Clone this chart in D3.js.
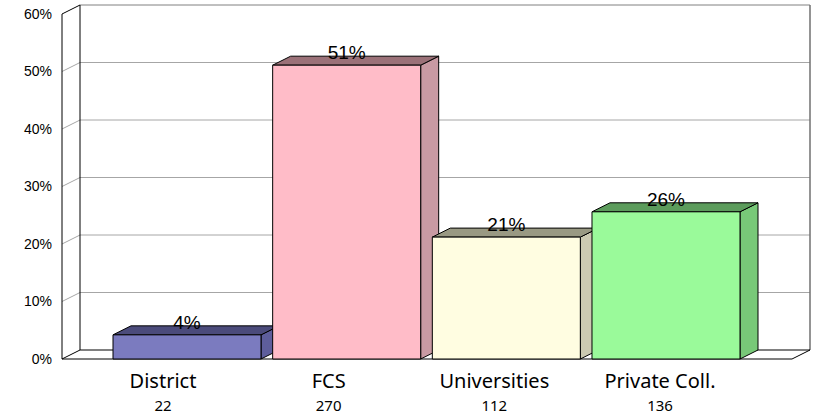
<!DOCTYPE html>
<html>
<head>
<meta charset="utf-8">
<script src="https://cdn.jsdelivr.net/npm/d3@7"></script>
<style>
  body { margin: 0; background: #fff; }
  svg { display: block; }
</style>
</head>
<body>
<svg id="canvas"></svg>
<script>
let categories = ['District', 'FCS', 'Universities', 'Private Coll.']
let counts = [22, 270, 112, 136]
let percents = [4.2, 51.1, 21.2, 25.6]
let yTicks = [0, 10, 20, 30, 40, 50, 60]

let frontColors = ['#7b7bbf', '#ffbcc8', '#fffde1', '#9afa9a']
let topColors = ['#4b4b7b', '#9b7178', '#999983', '#5c9c5c']
let sideColors = ['#5e5e9c', '#c99aa3', '#cccab2', '#78c878']

let width = 820,
height = 415

// depth offset of the 3d box
let dx = 18, dy = -9
let left = 62, right = 792

let canvas = d3.select('#canvas')
.attr('width', width)
.attr('height', height)

let y = d3.scaleLinear().domain([0, 60]).range([359, 14])

let x = d3.scaleBand()
.domain(categories)
.range([113, 740])
.paddingInner(0.073)
.paddingOuter(0)

let labelX = d3.scalePoint().domain(categories).range([163, 660])

let data = categories.map((c, i) => ({
    name: c, count: counts[i], value: percents[i],
    front: frontColors[i], top: topColors[i], side: sideColors[i]
}))

// floor
canvas.append('polygon')
.attr('points', [[left, y(0)], [right, y(0)], [right + dx, y(0) + dy], [left + dx, y(0) + dy]].join(' '))
.attr('fill', '#fff')
.attr('stroke', 'none')

// gridlines on back wall and left wall
let grid = canvas.append('g')
grid.selectAll('line.back')
.data(yTicks.slice(1, -1))
.join('line')
.attr('class', 'back')
.attr('x1', left + dx).attr('x2', right + dx)
.attr('y1', (d) => y(d) + dy).attr('y2', (d) => y(d) + dy)
.attr('stroke', '#a6a6a6')
.attr('stroke-width', 1)

grid.selectAll('line.side')
.data(yTicks.slice(1, -1))
.join('line')
.attr('class', 'side')
.attr('x1', left).attr('x2', left + dx)
.attr('y1', (d) => y(d)).attr('y2', (d) => y(d) + dy)
.attr('stroke', '#a6a6a6')
.attr('stroke-width', 1)

// walls outline
let walls = canvas.append('g').attr('fill', 'none')
walls.append('line')
.attr('x1', left + dx).attr('x2', right + dx)
.attr('y1', y(60) + dy).attr('y2', y(60) + dy)
.attr('stroke', '#808080')
walls.append('line')
.attr('x1', right + dx).attr('x2', right + dx)
.attr('y1', y(60) + dy).attr('y2', y(0) + dy)
.attr('stroke', '#707070')
.attr('stroke-width', 1.5)
walls.append('line')
.attr('x1', left + dx).attr('x2', right + dx)
.attr('y1', y(0) + dy).attr('y2', y(0) + dy)
.attr('stroke', '#000')
walls.append('line')
.attr('x1', left + dx).attr('x2', left + dx)
.attr('y1', y(60) + dy).attr('y2', y(0) + dy)
.attr('stroke', '#000')
walls.append('line')
.attr('x1', left).attr('x2', left)
.attr('y1', y(60)).attr('y2', y(0))
.attr('stroke', '#000')
walls.append('line')
.attr('x1', left).attr('x2', left + dx)
.attr('y1', y(60)).attr('y2', y(60) + dy)
.attr('stroke', '#000')
walls.append('line')
.attr('x1', left).attr('x2', left + dx)
.attr('y1', y(0)).attr('y2', y(0) + dy)
.attr('stroke', '#000')
walls.append('line')
.attr('x1', left).attr('x2', right)
.attr('y1', y(0)).attr('y2', y(0))
.attr('stroke', '#000')
walls.append('line')
.attr('x1', right).attr('x2', right + dx)
.attr('y1', y(0)).attr('y2', y(0) + dy)
.attr('stroke', '#000')

// y tick labels
canvas.append('g')
.selectAll('text')
.data(yTicks)
.join('text')
.attr('x', 52)
.attr('y', (d) => y(d))
.attr('dy', '0.35em')
.attr('text-anchor', 'end')
.attr('font-family', 'Liberation Sans, Arial, sans-serif')
.attr('font-size', 14)
.attr('fill', '#000')
.text((d) => d + '%')

// bars
let bars = canvas.append('g')
.selectAll('g')
.data(data)
.join('g')
.attr('stroke', '#000')
.attr('stroke-width', 1)
.attr('stroke-linejoin', 'round')

bars.append('polygon')
.attr('fill', (d) => d.side)
.attr('points', (d) => {
    let x1 = x(d.name) + x.bandwidth()
    return [[x1, y(d.value)], [x1 + dx, y(d.value) + dy], [x1 + dx, y(0) + dy], [x1, y(0)]].join(' ')
})

bars.append('polygon')
.attr('fill', (d) => d.top)
.attr('points', (d) => {
    let x0 = x(d.name), x1 = x0 + x.bandwidth(), yt = y(d.value)
    return [[x0, yt], [x0 + dx, yt + dy], [x1 + dx, yt + dy], [x1, yt]].join(' ')
})

bars.append('rect')
.attr('fill', (d) => d.front)
.attr('x', (d) => x(d.name))
.attr('y', (d) => y(d.value))
.attr('width', x.bandwidth())
.attr('height', (d) => y(0) - y(d.value))

// value labels
canvas.append('g')
.selectAll('text')
.data(data)
.join('text')
.attr('x', (d) => x(d.name) + x.bandwidth() / 2)
.attr('y', (d) => y(d.value) - 6)
.attr('text-anchor', 'middle')
.attr('font-family', 'Liberation Sans, Arial, sans-serif')
.attr('font-size', 19)
.attr('fill', '#000')
.text((d) => Math.round(d.value) + '%')

// category labels with counts
let cats = canvas.append('g')
.selectAll('g')
.data(data)
.join('g')
.attr('font-family', 'Noto Sans, Open Sans, sans-serif')
.attr('text-anchor', 'middle')
.attr('fill', '#000')

cats.append('text')
.attr('x', (d) => labelX(d.name))
.attr('y', 388)
.attr('font-size', 20)
.text((d) => d.name)

cats.append('text')
.attr('x', (d) => labelX(d.name))
.attr('y', 411)
.attr('font-size', 15)
.text((d) => d.count)
</script>
</body>
</html>
